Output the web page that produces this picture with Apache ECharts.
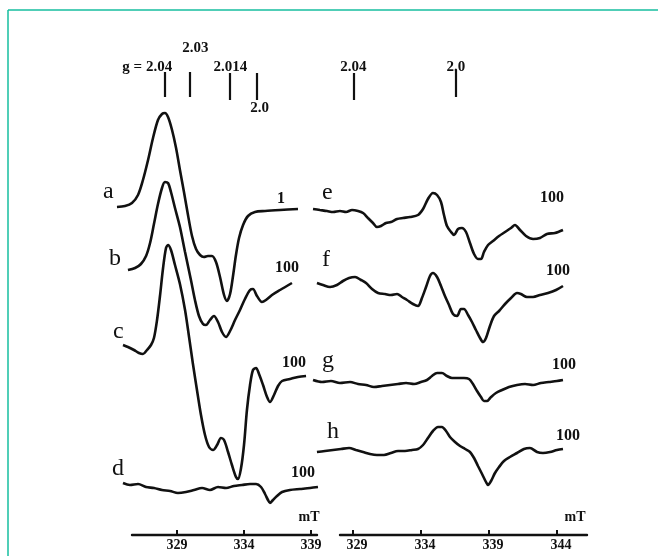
<!DOCTYPE html>
<html>
<head>
<meta charset="utf-8">
<script src="https://cdn.jsdelivr.net/npm/echarts@6/dist/echarts.min.js"></script>
<style>
  html, body { margin: 0; padding: 0; background: #fff; }
  #chart { width: 658px; height: 556px; }
</style>
</head>
<body>
<div id="chart"></div>
<script>
// field in mT, signal in arbitrary units (traces stacked as drawn)
const aField = [324.52,325.12,325.64,326.09,326.46,326.84,327.21,327.58,327.88,328.10,328.33,328.63,328.93,329.22,329.52,329.82,330.12,330.42,330.72,331.01,331.31,331.61,331.91,332.21,332.51,332.73,332.96,333.18,333.40,333.63,333.93,334.30,334.82,335.57,336.69,338.03];
const aSignal = [328,329,332,340,355,375,397,415,421,422,418,405,387,365,343,320,299,286,280,278,279,279,273,258,240,234,241,259,280,297,310,319,323,324,325,326];

const bField = [325.34,325.87,326.31,326.69,326.99,327.28,327.58,327.88,328.10,328.33,328.55,328.85,329.22,329.60,330.04,330.34,330.64,330.94,331.16,331.46,331.76,332.06,332.36,332.66,332.96,333.33,333.70,334.07,334.45,334.67,334.97,335.34,335.64,336.09,336.69,337.58];
const bSignal = [265,267,271,279,292,311,331,347,353,352,343,327,308,283,255,235,219,211,210,215,219,213,203,198,204,215,225,236,245,246,239,233,235,240,245,252];

const cField = [324.97,325.34,325.79,326.16,326.46,326.76,327.06,327.28,327.51,327.73,327.96,328.18,328.33,328.55,328.85,329.22,329.60,329.90,330.19,330.49,330.79,331.09,331.39,331.69,331.99,332.28,332.51,332.81,333.10,333.40,333.55,333.78,334.00,334.22,334.45,334.67,334.90,335.12,335.42,335.72,335.94,336.24,336.54,336.84,337.43,338.03,338.63];
const cSignal = [190,188,185,182,181,185,190,197,215,239,267,287,290,285,270,251,225,198,171,145,120,100,88,85,90,97,95,83,70,58,56,67,90,125,150,165,167,161,150,138,133,140,149,154,156,158,159];

const dField = [324.97,325.49,326.09,326.69,327.28,327.88,328.48,329.07,329.67,330.27,330.87,331.46,332.06,332.66,333.25,333.85,334.45,334.90,335.27,335.57,335.79,335.94,336.16,336.46,336.84,337.43,338.18,338.93,339.52];
const dSignal = [52,50,51,48,47,45,44,42,43,45,47,45,48,47,49,50,51,51,48,41,35,32,35,39,43,45,46,47,48];

const eField = [326.06,326.57,327.09,327.53,328.04,328.49,328.93,329.37,329.74,330.10,330.47,330.76,331.06,331.43,331.79,332.24,332.68,333.19,333.78,334.15,334.51,334.88,335.18,335.47,335.69,335.91,336.21,336.43,336.72,337.01,337.31,337.60,337.90,338.19,338.41,338.63,338.93,339.29,339.74,340.18,340.62,340.91,341.28,341.72,342.24,342.75,343.26,343.85,344.44];
const eSignal = [326,325,324,323,324,323,325,324,322,317,312,308,309,312,313,316,317,318,320,326,336,342,340,333,320,309,303,300,306,307,303,292,281,276,276,283,290,294,299,303,307,310,305,299,296,297,301,302,305];

const fField = [326.35,326.79,327.31,327.82,328.26,328.71,329.15,329.59,329.96,330.40,330.84,331.35,331.79,332.24,332.60,332.97,333.41,333.78,334.07,334.37,334.66,334.88,335.18,335.47,335.76,336.06,336.35,336.65,336.94,337.16,337.46,337.75,338.04,338.34,338.56,338.78,339.07,339.37,339.74,340.18,340.62,341.06,341.35,341.79,342.24,342.75,343.34,343.93,344.44];
const fSignal = [252,250,248,250,254,257,258,255,252,246,242,241,240,241,238,235,231,229,237,248,259,262,258,249,239,230,221,219,226,226,220,213,205,197,193,197,209,219,224,231,237,242,241,238,238,240,242,245,249];

const gField = [326.06,326.72,327.38,328.04,328.78,329.37,329.96,330.54,331.13,331.72,332.31,332.90,333.49,334.00,334.44,334.81,335.18,335.54,335.91,336.28,336.72,337.16,337.53,337.82,338.12,338.41,338.63,338.85,339.15,339.51,339.96,340.47,341.06,341.65,342.24,342.82,343.41,344.00,344.44];
const gSignal = [155,153,154,152,153,151,150,148,149,150,151,152,151,153,155,159,162,162,159,157,157,157,156,151,144,138,134,134,138,142,145,148,150,151,150,152,153,154,155];

const hField = [326.35,326.94,327.53,328.12,328.71,329.22,329.74,330.25,330.76,331.28,331.79,332.31,332.82,333.34,333.78,334.15,334.51,334.88,335.25,335.54,335.84,336.13,336.50,336.87,337.24,337.60,337.90,338.19,338.49,338.78,338.93,339.15,339.44,339.74,340.10,340.54,341.06,341.57,342.01,342.53,342.97,343.49,344.00,344.44];
const hSignal = [83,84,85,86,87,85,83,81,80,80,82,84,84,85,86,90,97,104,108,108,104,98,93,89,86,83,77,69,61,53,50,54,62,68,74,78,82,86,87,83,82,83,85,86];

const leftTicks = [329, 334, 339];
const rightTicks = [329, 334, 339, 344];

// g-value markers (field in mT)
const gLeftField = [328.05, 329.92, 332.90, 334.95];
const gLeftText = ['g = 2.04', '2.03', '2.014', '2.0'];
const gRightField = [329.02, 336.57];
const gRightText = ['2.04', '2.0'];

const INK = '#111';
const SERIF = '"Liberation Serif", "DejaVu Serif", serif';

const zip = (f, s) => f.map((x, i) => [x, s[i]]);

function trace(name, field, signal, axis, extra) {
  return Object.assign({
    name: name,
    type: 'line',
    xAxisIndex: axis,
    yAxisIndex: axis,
    data: zip(field, signal),
    showSymbol: false,
    smooth: 0.3,
    silent: true,
    lineStyle: { color: INK, width: 2.6 }
  }, extra || {});
}

// marker ticks: [bottom, top] in signal units, label offset
function marker(x, text, lo, hi, pos, offset) {
  return [
    { coord: [x, lo], label: { show: true, position: pos, distance: 0, formatter: text, offset: offset,
        fontFamily: SERIF, fontWeight: 'bold', fontSize: 15, color: INK } },
    { coord: [x, hi] }
  ];
}

const markStyle = { symbol: 'none', silent: true, animation: false, lineStyle: { color: INK, width: 2.2, type: 'solid' } };

const chart = echarts.init(document.getElementById('chart'));

function axisX(grid, min, max, ticks, pad) {
  return {
    type: 'value', gridIndex: grid, min: min, max: max,
    axisLine: { onZero: false, lineStyle: { color: INK, width: 2.4 } },
    axisTick: { customValues: ticks, inside: true, length: 5, lineStyle: { color: INK, width: 2 } },
    axisLabel: { customValues: ticks, margin: 3, color: INK, fontFamily: SERIF, fontWeight: 'bold', fontSize: 14, padding: pad },
    splitLine: { show: false }
  };
}

const txt = (x, y, text, size, weight, align) => ({
  type: 'text', x: x, y: y, silent: true,
  style: { text: text, fill: INK, font: (weight || 'normal') + ' ' + size + 'px ' + SERIF,
           textAlign: align || 'center', textVerticalAlign: 'middle', align: align || 'center', verticalAlign: 'middle' }
});

const option = {
  animation: false,
  backgroundColor: '#fff',
  grid: [
    { left: 110, top: 40, width: 214.4, height: 495 },
    { left: 132, top: 500, width: 185, height: 35 },
    { left: 305.4, top: 40, width: 265.2, height: 495 },
    { left: 340, top: 500, width: 247, height: 35 }
  ],
  xAxis: [
    { type: 'value', gridIndex: 0, min: 324, max: 340, show: false },
    axisX(1, 325.64, 339.45, leftTicks, 0),
    { type: 'value', gridIndex: 2, min: 325.5, max: 345, show: false },
    axisX(3, 328.04, 346.21, rightTicks, [0, 0, 0, 8])
  ],
  yAxis: [0, 1, 2, 3].map(i => ({ type: 'value', gridIndex: i, min: 0, max: i % 2 ? 1 : 495, show: false })),
  series: [
    trace('a', aField, aSignal, 0, {
      markLine: Object.assign({}, markStyle, {
        data: [
          marker(gLeftField[0], gLeftText[0], 438, 463, 'end', [-17, 3]),
          marker(gLeftField[1], gLeftText[1], 438, 463, 'end', [6, -16]),
          marker(gLeftField[2], gLeftText[2], 435, 462, 'end', [1, 2]),
          marker(gLeftField[3], gLeftText[3], 435, 462, 'start', [3, 1])
        ]
      })
    }),
    trace('b', bField, bSignal, 0),
    trace('c', cField, cSignal, 0),
    trace('d', dField, dSignal, 0),
    trace('e', eField, eSignal, 2, {
      markLine: Object.assign({}, markStyle, {
        data: [
          marker(gRightField[0], gRightText[0], 435, 462, 'end', [0, 2]),
          marker(gRightField[1], gRightText[1], 438, 465, 'end', [0, 5])
        ]
      })
    }),
    trace('f', fField, fSignal, 2),
    trace('g', gField, gSignal, 2),
    trace('h', hField, hSignal, 2)
  ],
  graphic: [
    { type: 'line', silent: true, shape: { x1: 8, y1: 10, x2: 658, y2: 10 }, style: { stroke: '#16be9f', lineWidth: 1.5 } },
    { type: 'line', silent: true, shape: { x1: 8, y1: 10, x2: 8, y2: 556 }, style: { stroke: '#16be9f', lineWidth: 1.5 } },
    txt(103, 192, 'a', 24, 'normal', 'left'),
    txt(109, 259, 'b', 24, 'normal', 'left'),
    txt(113, 332, 'c', 24, 'normal', 'left'),
    txt(112, 469, 'd', 24, 'normal', 'left'),
    txt(322, 193, 'e', 24, 'normal', 'left'),
    txt(322, 260, 'f', 24, 'normal', 'left'),
    txt(322, 361, 'g', 24, 'normal', 'left'),
    txt(327, 432, 'h', 24, 'normal', 'left'),
    txt(281, 199, '1', 16, 'bold'),
    txt(287, 268, '100', 16, 'bold'),
    txt(294, 363, '100', 16, 'bold'),
    txt(303, 473, '100', 16, 'bold'),
    txt(552, 198, '100', 16, 'bold'),
    txt(558, 271, '100', 16, 'bold'),
    txt(564, 365, '100', 16, 'bold'),
    txt(568, 436, '100', 16, 'bold'),
    txt(309, 517, 'mT', 14, 'bold'),
    txt(575, 517, 'mT', 14, 'bold')
  ]
};

chart.setOption(option);
window.addEventListener('resize', () => chart.resize());
</script>
</body>
</html>
